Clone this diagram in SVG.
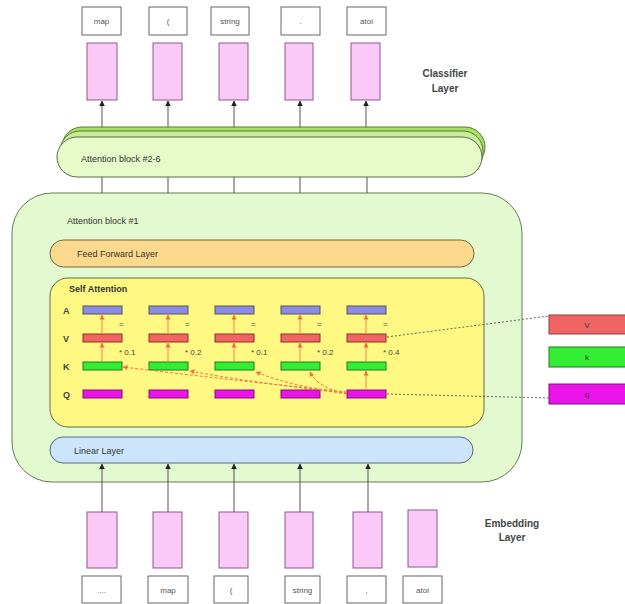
<svg xmlns="http://www.w3.org/2000/svg" width="625" height="604" viewBox="0 0 625 604">
  <style>
    text { font-family: "Liberation Sans", Arial, sans-serif; fill: #333; }
    .tok { fill: #fff; stroke: #666; stroke-width: 1; }
    .tokt { font-size: 8px; text-anchor: middle; fill: #555; }
    .emb { fill: #fbc9f8; stroke: #8a5a86; stroke-width: 1; }
    .lbl { font-size: 9px; }
    .big { font-size: 10px; font-weight: bold; text-anchor: middle; fill: #444; }
    .conn { stroke: #555; stroke-width: 1; fill: none; }
    .a { fill: #8c8ce6; stroke: #555; stroke-width: 1; }
    .v { fill: #f06464; stroke: #8a3030; stroke-width: 1; }
    .k { fill: #33ee33; stroke: #207a20; stroke-width: 1; }
    .q { fill: #ea14ea; stroke: #7a107a; stroke-width: 1; }
    .row { font-size: 9px; font-weight: bold; fill: #444; }
    .w { font-size: 8px; fill: #444; }
    .att { stroke: #f08a50; stroke-width: 1; fill: none; }
    .dash { stroke: #f07040; stroke-width: 1; fill: none; stroke-dasharray: 3 2; }
    .dot { stroke: #666; stroke-width: 1; fill: none; stroke-dasharray: 2 2; }
  </style>
  <defs>
    <marker id="arr" viewBox="0 0 10 10" refX="9" refY="5" markerWidth="6" markerHeight="6" orient="auto">
      <path d="M0,0 L10,5 L0,10 z" fill="#222"/>
    </marker>
    <marker id="arrO" viewBox="0 0 10 10" refX="9" refY="5" markerWidth="5" markerHeight="5" orient="auto">
      <path d="M0,0 L10,5 L0,10 z" fill="#f07040"/>
    </marker>
  </defs>

  <!-- output tokens -->
  <g id="out-tokens">
    <rect class="tok" x="82" y="7" width="39" height="28"/><text class="tokt" x="101.5" y="24">map</text>
    <rect class="tok" x="149" y="7" width="38" height="28"/><text class="tokt" x="168" y="24">(</text>
    <rect class="tok" x="211" y="7" width="38" height="28"/><text class="tokt" x="230" y="24">string</text>
    <rect class="tok" x="281" y="7" width="39" height="28"/><text class="tokt" x="300.5" y="24">.</text>
    <rect class="tok" x="347" y="7" width="39" height="28"/><text class="tokt" x="366.5" y="24">atoi</text>
  </g>

  <!-- classifier layer -->
  <g id="classifier">
    <rect class="emb" x="87" y="43" width="30" height="57"/>
    <rect class="emb" x="153" y="43" width="29" height="57"/>
    <rect class="emb" x="219" y="43" width="29" height="57"/>
    <rect class="emb" x="285" y="43" width="28" height="57"/>
    <rect class="emb" x="351" y="43" width="29" height="57"/>
    <text class="big" x="445" y="77">Classifier</text>
    <text class="big" x="445" y="92">Layer</text>
  </g>

  <!-- attention blocks 2-6 (stacked) -->
  <g id="block-2-6">
    <rect x="62" y="127" width="423" height="40" rx="20" fill="#a6e060" stroke="#5a7a3a"/>
    <rect x="60" y="131" width="423" height="42" rx="20" fill="#c6ee98" stroke="#5a7a3a"/>
    <rect x="57" y="137" width="425" height="40" rx="20" fill="#e6fbc8" stroke="#5a6a4a"/>
    <text class="lbl" x="81" y="162">Attention block #2-6</text>
  </g>

  <!-- attention block 1 -->
  <g id="block-1">
    <rect x="12" y="193" width="510" height="289" rx="40" fill="#e3f9cf" stroke="#6a7a5a"/>
    <text class="lbl" x="67" y="224">Attention block #1</text>
  </g>

  <g id="feed-forward">
    <rect x="50" y="240" width="424" height="27" rx="13.5" fill="#fdd98e" stroke="#6a6a4a"/>
    <text class="lbl" x="77" y="257">Feed Forward Layer</text>
  </g>

  <g id="self-attention">
    <rect x="50" y="278" width="434" height="149" rx="18" fill="#fff882" stroke="#6a6a4a"/>
    <text class="lbl" x="69" y="292" font-weight="bold">Self Attention</text>
    <text class="row" x="63" y="314">A</text>
    <text class="row" x="63" y="342">V</text>
    <text class="row" x="63" y="370">K</text>
    <text class="row" x="63" y="398">Q</text>
  </g>

  <g id="linear">
    <rect x="50" y="437" width="423" height="26" rx="13" fill="#cce5fb" stroke="#5a6a7a"/>
    <text class="lbl" x="74" y="454">Linear Layer</text>
  </g>

  <!-- per-token A/V/K/Q vectors -->
  <g id="col-1">
    <rect class="a" x="83" y="306" width="39" height="8"/>
    <rect class="v" x="83" y="334" width="39" height="8"/>
    <rect class="k" x="83" y="362" width="39" height="8"/>
    <rect class="q" x="83" y="390" width="39" height="8"/>
    <text class="w" x="119" y="355">* 0.1</text>
  </g>
  <g id="col-2">
    <rect class="a" x="149" y="306" width="39" height="8"/>
    <rect class="v" x="149" y="334" width="39" height="8"/>
    <rect class="k" x="149" y="362" width="39" height="8"/>
    <rect class="q" x="149" y="390" width="39" height="8"/>
    <text class="w" x="185" y="355">* 0.2</text>
  </g>
  <g id="col-3">
    <rect class="a" x="215" y="306" width="39" height="8"/>
    <rect class="v" x="215" y="334" width="39" height="8"/>
    <rect class="k" x="215" y="362" width="39" height="8"/>
    <rect class="q" x="215" y="390" width="39" height="8"/>
    <text class="w" x="251" y="355">* 0.1</text>
  </g>
  <g id="col-4">
    <rect class="a" x="281" y="306" width="39" height="8"/>
    <rect class="v" x="281" y="334" width="39" height="8"/>
    <rect class="k" x="281" y="362" width="39" height="8"/>
    <rect class="q" x="281" y="390" width="39" height="8"/>
    <text class="w" x="317" y="355">* 0.2</text>
  </g>
  <g id="col-5">
    <rect class="a" x="347" y="306" width="39" height="8"/>
    <rect class="v" x="347" y="334" width="39" height="8"/>
    <rect class="k" x="347" y="362" width="39" height="8"/>
    <rect class="q" x="347" y="390" width="39" height="8"/>
    <text class="w" x="383" y="355">* 0.4</text>
  </g>

  <!-- legend -->
  <g id="legend-v">
    <rect x="549" y="315" width="78" height="19" fill="#f06464" stroke="#8a4040"/>
    <text x="587" y="328" font-size="8" text-anchor="middle" fill="#222">V</text>
  </g>
  <g id="legend-k">
    <rect x="549" y="347" width="78" height="20" fill="#33ee33" stroke="#207a20"/>
    <text x="587" y="360" font-size="8" text-anchor="middle" fill="#222">k</text>
  </g>
  <g id="legend-q">
    <rect x="549" y="384" width="78" height="20" fill="#ea14ea" stroke="#7a107a"/>
    <text x="587" y="397" font-size="8" text-anchor="middle" fill="#222">q</text>
  </g>

  <!-- embedding layer -->
  <g id="embedding">
    <rect class="emb" x="87" y="512" width="30" height="56"/>
    <rect class="emb" x="153" y="512" width="29" height="56"/>
    <rect class="emb" x="219" y="512" width="29" height="56"/>
    <rect class="emb" x="285" y="512" width="28" height="56"/>
    <rect class="emb" x="353" y="512" width="29" height="56"/>
    <rect class="emb" x="408" y="510" width="29" height="57"/>
    <text class="big" x="512" y="527">Embedding</text>
    <text class="big" x="512" y="541">Layer</text>
  </g>

  <!-- input tokens -->
  <g id="in-tokens">
    <rect class="tok" x="82" y="576" width="39" height="27"/><text class="tokt" x="101.5" y="593">....</text>
    <rect class="tok" x="148" y="576" width="40" height="27"/><text class="tokt" x="168" y="593">map</text>
    <rect class="tok" x="214" y="576" width="34" height="27"/><text class="tokt" x="231" y="593">(</text>
    <rect class="tok" x="285" y="576" width="35" height="27"/><text class="tokt" x="302.5" y="593">string</text>
    <rect class="tok" x="347" y="576" width="39" height="27"/><text class="tokt" x="366.5" y="593">,</text>
    <rect class="tok" x="403" y="576" width="39" height="27"/><text class="tokt" x="422.5" y="593">atoi</text>
  </g>

  <!-- connectors -->
  <g id="connectors">
    <!-- block 2-6 to classifier -->
    <line class="conn" x1="102" y1="127" x2="102" y2="101" marker-end="url(#arr)"/>
    <line class="conn" x1="168" y1="127" x2="168" y2="101" marker-end="url(#arr)"/>
    <line class="conn" x1="234" y1="127" x2="234" y2="101" marker-end="url(#arr)"/>
    <line class="conn" x1="300" y1="127" x2="300" y2="101" marker-end="url(#arr)"/>
    <line class="conn" x1="366" y1="127" x2="366" y2="101" marker-end="url(#arr)"/>
    <!-- block 1 to block 2-6 -->
    <line class="conn" x1="102" y1="193" x2="102" y2="177"/>
    <line class="conn" x1="168" y1="193" x2="168" y2="177"/>
    <line class="conn" x1="234" y1="193" x2="234" y2="177"/>
    <line class="conn" x1="300" y1="193" x2="300" y2="177"/>
    <line class="conn" x1="367" y1="193" x2="367" y2="177"/>
    <!-- embedding to linear -->
    <line class="conn" x1="102" y1="512" x2="102" y2="464" marker-end="url(#arr)"/>
    <line class="conn" x1="168" y1="512" x2="168" y2="464" marker-end="url(#arr)"/>
    <line class="conn" x1="234" y1="512" x2="234" y2="464" marker-end="url(#arr)"/>
    <line class="conn" x1="300" y1="512" x2="300" y2="464" marker-end="url(#arr)"/>
    <line class="conn" x1="368" y1="512" x2="368" y2="464" marker-end="url(#arr)"/>

    <!-- V->A and K->V in each column -->
    <line class="att" x1="102" y1="334" x2="102" y2="315" marker-end="url(#arrO)"/>
    <line class="att" x1="102" y1="362" x2="102" y2="343" marker-end="url(#arrO)"/>
    <line class="att" x1="168" y1="334" x2="168" y2="315" marker-end="url(#arrO)"/>
    <line class="att" x1="168" y1="362" x2="168" y2="343" marker-end="url(#arrO)"/>
    <line class="att" x1="234" y1="334" x2="234" y2="315" marker-end="url(#arrO)"/>
    <line class="att" x1="234" y1="362" x2="234" y2="343" marker-end="url(#arrO)"/>
    <line class="att" x1="300" y1="334" x2="300" y2="315" marker-end="url(#arrO)"/>
    <line class="att" x1="300" y1="362" x2="300" y2="343" marker-end="url(#arrO)"/>
    <line class="att" x1="366" y1="334" x2="366" y2="315" marker-end="url(#arrO)"/>
    <line class="att" x1="366" y1="362" x2="366" y2="343" marker-end="url(#arrO)"/>
    <line class="att" x1="366" y1="390" x2="366" y2="371" marker-end="url(#arrO)"/>

    <!-- summation marks -->
    <text class="w" x="119" y="327">=</text>
    <text class="w" x="185" y="327">=</text>
    <text class="w" x="251" y="327">=</text>
    <text class="w" x="317" y="327">=</text>
    <text class="w" x="383" y="327">=</text>

    <!-- query of last token against the other keys -->
    <path class="dash" d="M347,392 Q230,380 123,367" marker-end="url(#arrO)"/>
    <path class="dash" d="M347,393 Q260,384 190,371" marker-end="url(#arrO)"/>
    <path class="dash" d="M347,394 Q290,386 256,372" marker-end="url(#arrO)"/>
    <path class="dash" d="M347,394 Q318,388 310,372" marker-end="url(#arrO)"/>

    <!-- legend links -->
    <line class="dot" x1="387" y1="337" x2="549" y2="316"/>
    <line class="dot" x1="387" y1="394" x2="549" y2="398"/>
  </g>
</svg>
